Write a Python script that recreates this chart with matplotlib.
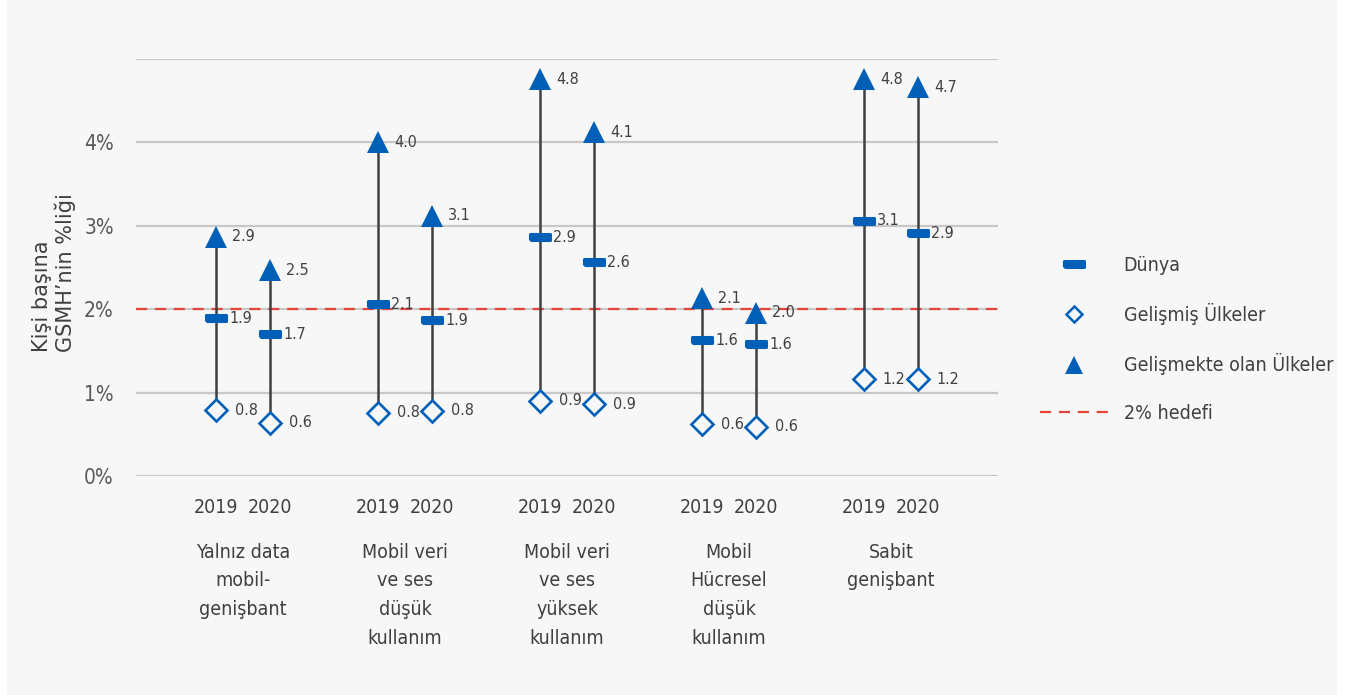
import matplotlib.pyplot as plt
from matplotlib.lines import Line2D
from matplotlib.patches import Rectangle

plt.rcParams['font.family'] = ['DejaVu Sans']
plt.rcParams['font.stretch'] = 'condensed'

# Kategoriler ve yıllar
categories = ['Yalnız data\nmobil-\ngenişbant',
              'Mobil veri\nve ses\ndüşük\nkullanım',
              'Mobil veri\nve ses\nyüksek\nkullanım',
              'Mobil\nHücresel\ndüşük\nkullanım',
              'Sabit\ngenişbant']
years = ['2019', '2020']

# Kişi başına GSMH'nin yüzdesi (her kategori için 2019, 2020)
dunya = [1.89, 1.70, 2.06, 1.87, 2.86, 2.56, 1.63, 1.58, 3.06, 2.91]
gelismis = [0.79, 0.64, 0.76, 0.78, 0.90, 0.86, 0.62, 0.59, 1.16, 1.16]
gelismekte = [2.87, 2.47, 4.00, 3.12, 4.76, 4.12, 2.13, 1.96, 4.76, 4.66]
hedef = 2.0

blue = '#0060b8'
txt = '#404040'

# x konumları: her kategori etrafında iki yıl
xs = []
for i in range(len(categories)):
    xs += [i - 1/6, i + 1/6]

fig = plt.figure(figsize=(13.46, 6.95), dpi=100)
fig.patches.append(Rectangle((7/1346, 0), 1330/1346, 1, transform=fig.transFigure,
                             facecolor='#f7f7f7', edgecolor='none', zorder=-1))
ax = fig.add_axes([136/1346, 1 - 476/695, 862/1346, 0.6])
ax.set_facecolor('none')

ax.set_xlim(-0.66, 4.66)
ax.set_ylim(0, 5)
for y in range(6):
    ax.axhline(y, color='#c8c8c8', lw=1.6, zorder=1)
ax.axhline(hedef, color='#e5443a', lw=1.6, ls=(0, (5, 3.5)), zorder=2)

ax.vlines(xs, gelismis, gelismekte, color='#404040', lw=1.8, zorder=3)

dash = [(-2, -0.5), (2, -0.5), (2, 0.5), (-2, 0.5), (-2, -0.5)]
ax.plot(xs, gelismis, ls='none', marker='D', ms=11.5, mfc='#f7f7f7', mec=blue,
        mew=1.9, zorder=4)
ax.plot(xs, gelismekte, ls='none', marker='^', ms=15.5, color=blue, mew=0, zorder=4)
ax.plot(xs, dunya, ls='none', marker=dash, ms=14.5, color=blue, mew=2.2,
        solid_joinstyle='round', zorder=5)

for x, d, g, t in zip(xs, dunya, gelismis, gelismekte):
    ax.annotate(f'{t:.1f}', (x, t), xytext=(11.5, 0), textcoords='offset points',
                ha='left', va='center', fontsize=11.5, color=txt)
    ax.annotate(f'{d:.1f}', (x, d), xytext=(9.5, 0), textcoords='offset points',
                ha='left', va='center', fontsize=11.5, color=txt)
    ax.annotate(f'{g:.1f}', (x, g), xytext=(13.5, 0), textcoords='offset points',
                ha='left', va='center', fontsize=11.5, color=txt)

ax.set_xticks(xs)
ax.set_xticklabels(years * len(categories), fontsize=14, color=txt)
ax.set_yticks(range(6))
ax.set_yticklabels([f'{v}%' for v in range(5)] + [''], fontsize=15, color='#595959')
ax.tick_params(axis='both', length=0)
ax.tick_params(axis='x', pad=16)
ax.tick_params(axis='y', pad=16)
for s in ax.spines.values():
    s.set_visible(False)

for i, c in enumerate(categories):
    ax.annotate(c, (i, 0), xycoords=('data', 'axes fraction'), xytext=(0, -48),
                textcoords='offset points', ha='center', va='top', fontsize=14,
                color=txt, linespacing=1.65)

fig.text(54/1346, 1 - 273/695, 'Kişi başına\nGSMH’nin %liği', rotation=90,
         ha='center', va='center', multialignment='left', fontsize=15, color=txt,
         fontstretch='normal')

handles = [
    Line2D([], [], ls='none', marker=dash, ms=14.5, color=blue, mew=2.2,
           solid_joinstyle='round'),
    Line2D([], [], ls='none', marker='D', ms=8, mfc='#f7f7f7', mec=blue, mew=1.8),
    Line2D([], [], ls='none', marker='^', ms=13, color=blue, mew=0),
    Line2D([], [], color='#e5443a', lw=1.6, ls=(0, (5, 3.5))),
]
labels = ['Dünya', 'Gelişmiş Ülkeler', 'Gelişmekte olan Ülkeler', '2% hedefi']
fig.legend(handles, labels, loc='upper left', bbox_to_anchor=(1040/1346, 1 - 256/695),
           frameon=False, borderpad=0, borderaxespad=0, handlelength=3.5,
           handletextpad=0.8, labelspacing=1.45, prop={'size': 14}, labelcolor=txt)

fig.savefig('out.png', dpi=100, facecolor='white')
